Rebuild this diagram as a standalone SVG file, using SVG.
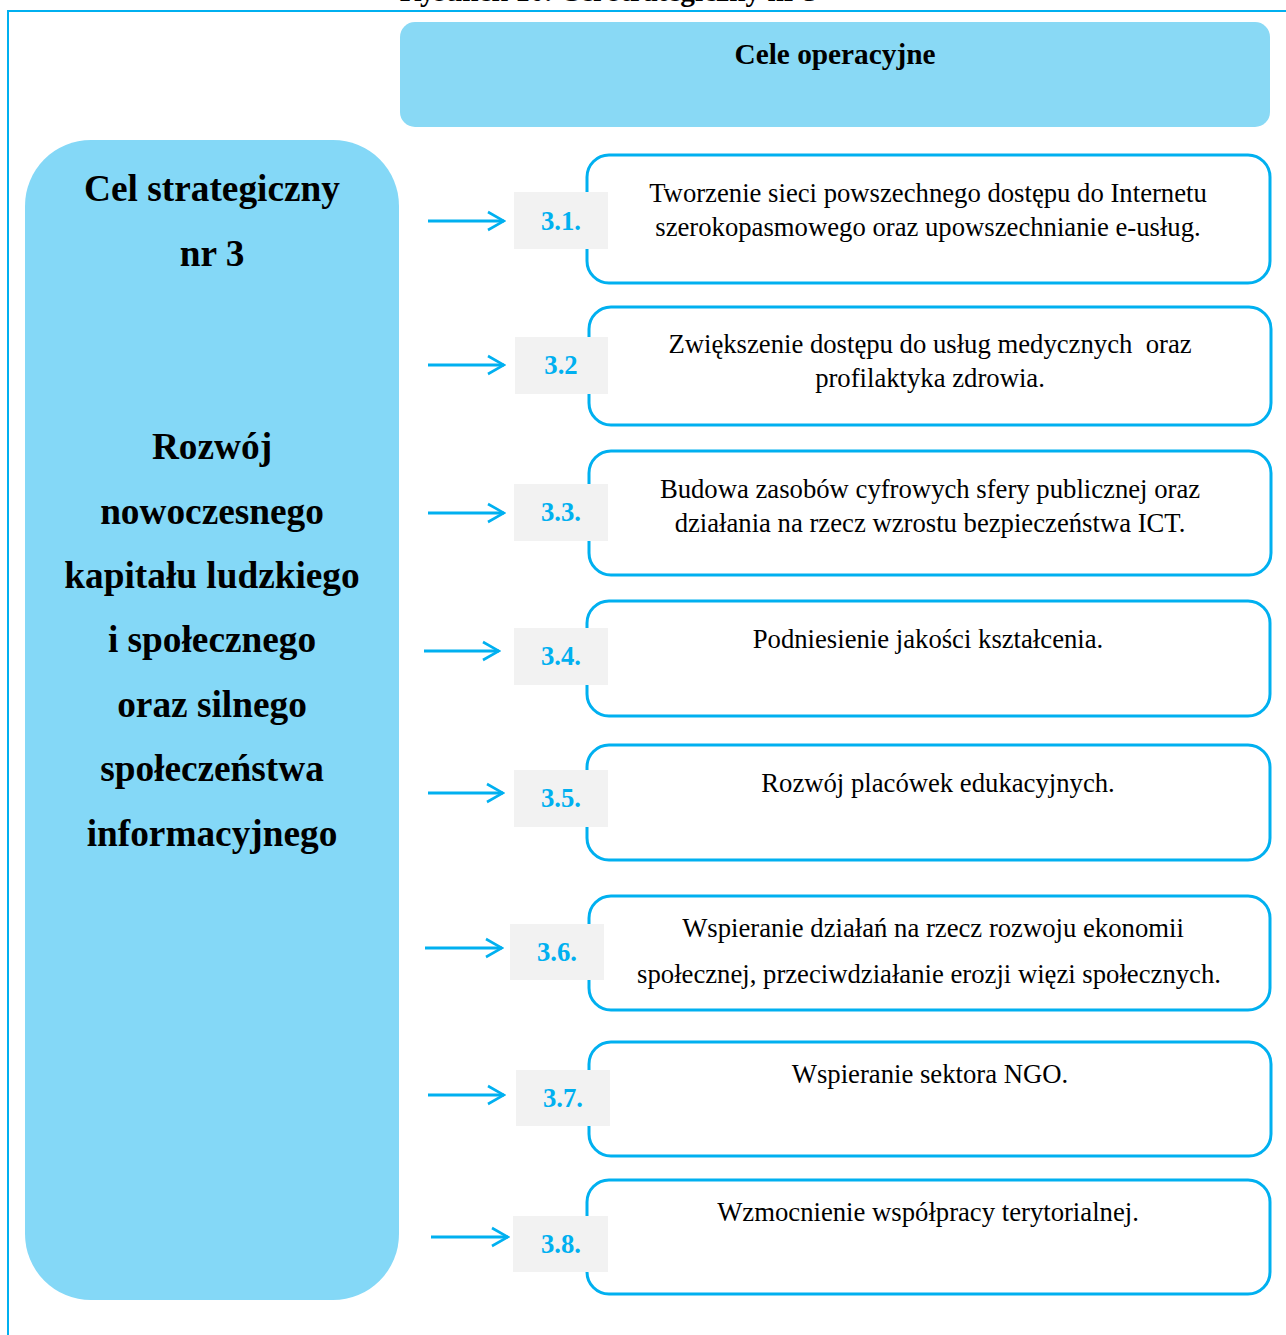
<svg xmlns="http://www.w3.org/2000/svg" width="1286" height="1335" viewBox="0 0 1286 1335">
<style>
.frame{fill:none;stroke:#00b0f0;stroke-width:2}
.hdr{fill:#89d9f5}
.goal{fill:#84d8f7}
.box{fill:#fff;stroke:#00b0f0;stroke-width:3}
.num{fill:#f2f2f2}
.numt{font-family:"Liberation Serif",serif;font-weight:bold;font-size:26.7px;fill:#00b0f0;text-anchor:middle}
.t{font-family:"Liberation Serif",serif;font-size:26.7px;fill:#000;text-anchor:middle}
.big{font-family:"Liberation Serif",serif;font-weight:bold;font-size:37.3px;fill:#000;text-anchor:middle}
.hd{font-family:"Liberation Serif",serif;font-weight:bold;font-size:29.3px;fill:#000;text-anchor:middle}
.arr{fill:none;stroke:#00b0f0;stroke-width:3}
</style>
<defs>
<marker id="ah" viewBox="0 0 10 10" refX="9" refY="5" markerWidth="20" markerHeight="24" markerUnits="userSpaceOnUse" orient="auto">
<path d="M1,0.5 L9,5 L1,9.5" fill="none" stroke="#00b0f0" stroke-width="1.3"/>
</marker>
</defs>
<text x="609" y="1" class="hd">Rysunek 10. Cel strategiczny nr 3</text>
<rect class="frame" x="8" y="11" width="1300" height="1400"/>
<g id="header">
<rect class="hdr" x="400" y="22" width="870" height="105" rx="15"/>
<text class="hd" x="835" y="64">Cele operacyjne</text>
</g>
<g id="goal">
<rect class="goal" x="25" y="140" width="374" height="1160" rx="66"/>
<text class="big" x="212" y="201">Cel strategiczny</text>
<text class="big" x="212" y="266">nr 3</text>
<text class="big" x="212" y="459">Rozwój</text>
<text class="big" x="212" y="524">nowoczesnego</text>
<text class="big" x="212" y="588">kapitału ludzkiego</text>
<text class="big" x="212" y="652">i społecznego</text>
<text class="big" x="212" y="717">oraz silnego</text>
<text class="big" x="212" y="781">społeczeństwa</text>
<text class="big" x="212" y="846">informacyjnego</text>
</g>
<g id="connectors">
<line class="arr" x1="428" y1="221" x2="504" y2="221" marker-end="url(#ah)"/>
<line class="arr" x1="428" y1="365" x2="504" y2="365" marker-end="url(#ah)"/>
<line class="arr" x1="428" y1="513" x2="504" y2="513" marker-end="url(#ah)"/>
<line class="arr" x1="424" y1="651" x2="499" y2="651" marker-end="url(#ah)"/>
<line class="arr" x1="428" y1="793" x2="503" y2="793" marker-end="url(#ah)"/>
<line class="arr" x1="425" y1="948" x2="502" y2="948" marker-end="url(#ah)"/>
<line class="arr" x1="428" y1="1095" x2="504" y2="1095" marker-end="url(#ah)"/>
<line class="arr" x1="431" y1="1237" x2="508" y2="1237" marker-end="url(#ah)"/>
</g>
<g id="goal-3-1">
<rect class="box" x="587" y="155" width="683" height="128" rx="22"/>
<rect class="num" x="514" y="192" width="94" height="57"/>
<text class="numt" x="561" y="230">3.1.</text>
<text class="t" x="928" y="202">Tworzenie sieci powszechnego dostępu do Internetu</text>
<text class="t" x="928" y="236">szerokopasmowego oraz upowszechnianie e-usług.</text>
</g>
<g id="goal-3-2">
<rect class="box" x="589" y="307" width="682" height="118" rx="22"/>
<rect class="num" x="515" y="337" width="93" height="57"/>
<text class="numt" x="561" y="374">3.2</text>
<text class="t" x="930" y="353" xml:space="preserve">Zwiększenie dostępu do usług medycznych  oraz</text>
<text class="t" x="930" y="387">profilaktyka zdrowia.</text>
</g>
<g id="goal-3-3">
<rect class="box" x="589" y="451" width="682" height="124" rx="22"/>
<rect class="num" x="514" y="484" width="94" height="57"/>
<text class="numt" x="561" y="521">3.3.</text>
<text class="t" x="930" y="498">Budowa zasobów cyfrowych sfery publicznej oraz</text>
<text class="t" x="930" y="532">działania na rzecz wzrostu bezpieczeństwa ICT.</text>
</g>
<g id="goal-3-4">
<rect class="box" x="587" y="601" width="683" height="115" rx="22"/>
<rect class="num" x="514" y="628" width="94" height="57"/>
<text class="numt" x="561" y="665">3.4.</text>
<text class="t" x="928" y="648">Podniesienie jakości kształcenia.</text>
</g>
<g id="goal-3-5">
<rect class="box" x="587" y="745" width="683" height="115" rx="22"/>
<rect class="num" x="514" y="770" width="94" height="57"/>
<text class="numt" x="561" y="807">3.5.</text>
<text class="t" x="938" y="792">Rozwój placówek edukacyjnych.</text>
</g>
<g id="goal-3-6">
<rect class="box" x="589" y="896" width="681" height="114" rx="22"/>
<rect class="num" x="510" y="924" width="94" height="56"/>
<text class="numt" x="557" y="961">3.6.</text>
<text class="t" x="933" y="937">Wspieranie działań na rzecz rozwoju ekonomii</text>
<text class="t" x="929" y="983">społecznej, przeciwdziałanie erozji więzi społecznych.</text>
</g>
<g id="goal-3-7">
<rect class="box" x="589" y="1042" width="682" height="114" rx="22"/>
<rect class="num" x="516" y="1070" width="94" height="56"/>
<text class="numt" x="563" y="1107">3.7.</text>
<text class="t" x="930" y="1083">Wspieranie sektora NGO.</text>
</g>
<g id="goal-3-8">
<rect class="box" x="587" y="1180" width="683" height="114" rx="22"/>
<rect class="num" x="513" y="1216" width="95" height="56"/>
<text class="numt" x="561" y="1253">3.8.</text>
<text class="t" x="928" y="1221">Wzmocnienie współpracy terytorialnej.</text>
</g>
</svg>
